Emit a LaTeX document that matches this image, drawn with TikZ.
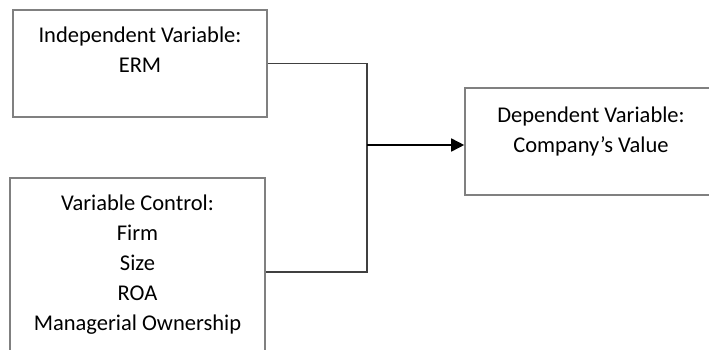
\documentclass[tikz,border=0pt]{standalone}
\usepackage{fontspec}
\setmainfont{Carlito}
\usetikzlibrary{arrows.meta}

\begin{document}
\begin{tikzpicture}[x=1pt,y=-1pt]
	\tikzstyle{every node}+=[inner sep=0pt]
	\tikzstyle{varbox}=[draw=black!50,line width=1.6pt,fill=white]
	\tikzstyle{vartext}=[anchor=north,align=center,font=\fontsize{22.5}{30}\selectfont,yshift=-17pt]
	\tikzstyle{link}=[draw=black!75,line width=1.6pt]
	\useasboundingbox (0,0) rectangle (709,349);
	\clip (0,0) rectangle (709,349);
	\node [varbox,minimum width=254pt,minimum height=107pt] (indep) at (140,63.5) {};
	\node [vartext] (indeptext) at (indep.north) {Independent Variable:\\ERM};
	\node [varbox,minimum width=255pt,minimum height=188pt] (ctrl) at (137.5,272) {};
	\node [vartext] (ctrltext) at (ctrl.north) {Variable Control:\\Firm\\Size\\ROA\\Managerial Ownership};
	\node [varbox,minimum width=252pt,minimum height=107pt] (dep) at (591,141.5) {};
	\node [vartext,yshift=-2pt] (deptext) at (dep.north) {Dependent Variable:\\Company’s Value};
	\coordinate (split) at (367,145);
	\draw [link] (indep.east) -| (split) |- (ctrl.east);
	\draw [black,line width=1.6pt,-{Triangle[length=13pt,width=13pt]}] (split) -- (dep.west |- split);
\end{tikzpicture}
\end{document}
